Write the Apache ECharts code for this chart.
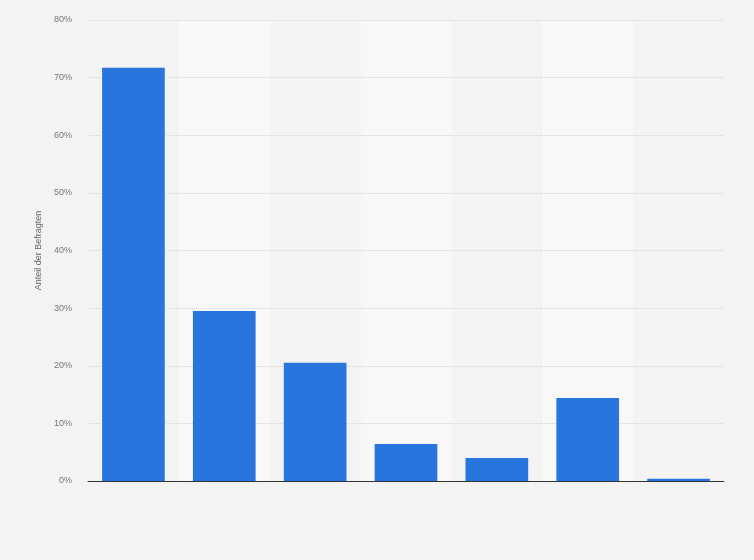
<!DOCTYPE html>
<html><head><meta charset="utf-8">
<script src="https://cdn.jsdelivr.net/npm/echarts@6/dist/echarts.min.js"></script>
<style>html,body{margin:0;padding:0;background:#f3f3f3}#c{width:754px;height:560px}</style>
</head><body><div id="c"></div>
<script>
const categories = ['Kategorie 1','Kategorie 2','Kategorie 3','Kategorie 4','Kategorie 5','Kategorie 6','Kategorie 7'];
const values = [71.7, 29.5, 20.5, 6.4, 4.0, 14.4, 0.4];
const yTicks = {min: 0, max: 80, interval: 10};
const yName = 'Anteil der Befragten';

const chart = echarts.init(document.getElementById('c'), null, {renderer: 'canvas'});
chart.setOption({
  backgroundColor: '#f3f3f3',
  animation: false,
  grid: {left: 88, right: 30, top: 20, bottom: 79},
  xAxis: [{
    type: 'category', data: categories, z: 0,
    axisLine: {show: false},
    axisTick: {show: false},
    axisLabel: {show: false},
    splitArea: {show: true, areaStyle: {color: ['rgba(0,0,0,0)', '#f8f8f8']}}
  }, {
    type: 'category', data: categories, position: 'bottom', z: 5,
    axisLine: {show: true, lineStyle: {color: '#333', width: 1}},
    axisTick: {show: false},
    axisLabel: {show: false},
    splitLine: {show: false}, splitArea: {show: false}
  }],
  yAxis: {
    type: 'value', min: yTicks.min, max: yTicks.max, interval: yTicks.interval, z: 1,
    name: yName, nameLocation: 'middle', nameGap: 43,
    nameTextStyle: {color: '#666', fontSize: 9, fontFamily: 'Arial, Liberation Sans'},
    axisLine: {show: false}, axisTick: {show: false},
    axisLabel: {formatter: '{value}%', color: '#777', fontSize: 9, fontFamily: 'Arial, Liberation Sans', margin: 16},
    splitLine: {lineStyle: {color: '#d6d6d6', type: [1, 1]}}
  },
  series: [{
    type: 'bar', data: values, barCategoryGap: '31%', z: 2, xAxisIndex: 0,
    itemStyle: {color: '#2876dd'}
  }]
});
</script></body></html>
